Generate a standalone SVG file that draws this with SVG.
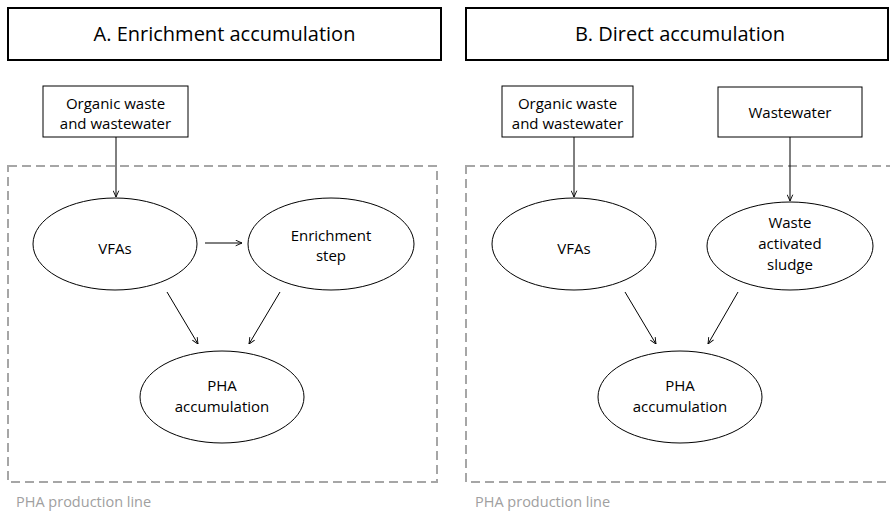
<svg xmlns="http://www.w3.org/2000/svg" width="890" height="517" viewBox="0 0 890 517">
<defs>
<style>
.title{fill:#fff;stroke:#000;stroke-width:2}
.tt{font-family:"Open Sans","Liberation Sans",sans-serif;font-size:20px;fill:#000;text-anchor:middle}
.box{fill:#fff;stroke:#000;stroke-width:1}
.ell{fill:#fff;stroke:#000;stroke-width:1}
.t{font-family:"Open Sans","Liberation Sans",sans-serif;font-size:15px;fill:#000;text-anchor:middle}
.dash{fill:none;stroke:#a6a6a6;stroke-width:2;stroke-dasharray:9 5}
.lbl{font-family:"Open Sans","Liberation Sans",sans-serif;font-size:14.5px;fill:#a0a0a0}
.c{fill:none;stroke:#000;stroke-width:1;marker-end:url(#ah)}
</style>
<marker id="ah" viewBox="0 0 10 10" refX="10" refY="5" markerWidth="7" markerHeight="7" markerUnits="userSpaceOnUse" orient="auto">
<path d="M1,1 L10,5 L1,9" fill="none" stroke="#000" stroke-width="1.3"/>
</marker>
</defs>
<g id="panelA">
<g id="titleA"><rect class="title" x="8" y="8" width="433" height="52"/><text class="tt" x="224.5" y="41">A. Enrichment accumulation</text></g>
<g id="lineA"><rect class="dash" x="8" y="166" width="429" height="316"/><text class="lbl" x="16" y="507">PHA production line</text></g>
<g id="organicA"><rect class="box" x="43" y="86" width="145" height="51"/><text class="t" x="115.5" y="109">Organic waste</text><text class="t" x="115.5" y="129">and wastewater</text></g>
<g id="vfasA"><ellipse class="ell" cx="115" cy="244" rx="82" ry="46"/><text class="t" x="115" y="254">VFAs</text></g>
<g id="enrich"><ellipse class="ell" cx="331" cy="244" rx="83" ry="46"/><text class="t" x="331" y="241">Enrichment</text><text class="t" x="331" y="261">step</text></g>
<g id="phaA"><ellipse class="ell" cx="222" cy="397" rx="82" ry="46"/><text class="t" x="222" y="391">PHA</text><text class="t" x="222" y="412">accumulation</text></g>
</g>
<g id="panelB">
<g id="titleB"><rect class="title" x="466" y="8" width="422" height="52"/><text class="tt" x="680" y="41">B. Direct accumulation</text></g>
<g id="lineB"><rect class="dash" x="466" y="166" width="430" height="316"/><text class="lbl" x="475" y="507">PHA production line</text></g>
<g id="organicB"><rect class="box" x="502" y="86" width="131" height="51"/><text class="t" x="567.5" y="109">Organic waste</text><text class="t" x="567.5" y="129">and wastewater</text></g>
<g id="wastewater"><rect class="box" x="718" y="87" width="144" height="50"/><text class="t" x="790" y="118">Wastewater</text></g>
<g id="vfasB"><ellipse class="ell" cx="574" cy="244" rx="82" ry="46"/><text class="t" x="574" y="254">VFAs</text></g>
<g id="was"><ellipse class="ell" cx="790" cy="246" rx="83" ry="44"/><text class="t" x="790" y="228">Waste</text><text class="t" x="790" y="249">activated</text><text class="t" x="790" y="270">sludge</text></g>
<g id="phaB"><ellipse class="ell" cx="680" cy="397" rx="82" ry="46"/><text class="t" x="680" y="391">PHA</text><text class="t" x="680" y="412">accumulation</text></g>
</g>
<g id="connectors">
<line class="c" x1="116" y1="137" x2="116" y2="197"/>
<line class="c" x1="205" y1="243" x2="242" y2="243"/>
<line class="c" x1="167" y1="292" x2="198" y2="344"/>
<line class="c" x1="280" y1="292" x2="249" y2="344"/>
<line class="c" x1="574" y1="137" x2="574" y2="197"/>
<line class="c" x1="790" y1="137" x2="790" y2="201"/>
<line class="c" x1="625" y1="292" x2="656" y2="344"/>
<line class="c" x1="738" y1="292" x2="708" y2="344"/>
</g>
</svg>
